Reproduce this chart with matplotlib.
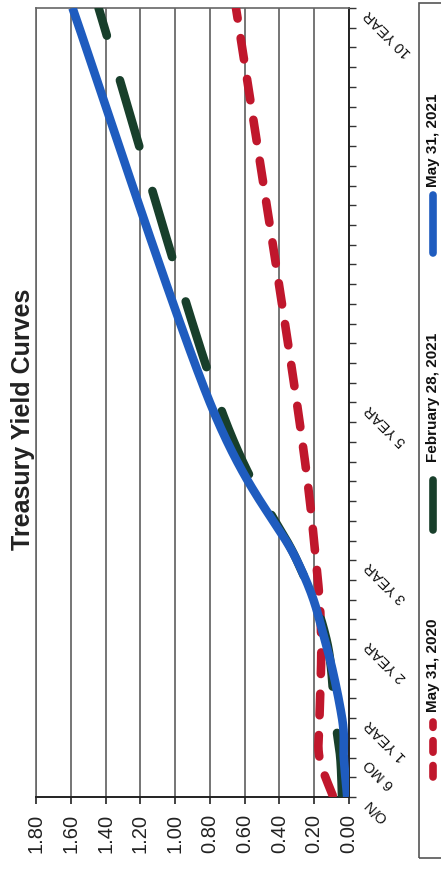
import numpy as np
import matplotlib
matplotlib.use("Agg")
import matplotlib.pyplot as plt
import matplotlib.transforms as mtransforms
from matplotlib.lines import Line2D
from matplotlib.patches import Rectangle

plt.rcParams['font.family'] = ['Liberation Sans', 'DejaVu Sans']

# maturities along the curve (years) and their labels
maturity_labels = ['O/N', '6 MO', '1 YEAR', '2 YEAR', '3 YEAR', '5 YEAR', '10 YEAR']
maturity_years = [0, 0.5, 1, 2, 3, 5, 10]

# yields in percent
may_2020 = [0.09, 0.17, 0.17, 0.16, 0.19, 0.30, 0.65]
feb_2021 = [0.04, 0.05, 0.08, 0.13, 0.30, 0.75, 1.44]
may_2021 = [0.01, 0.03, 0.04, 0.14, 0.30, 0.80, 1.59]
series_names = ['May 31, 2020', 'February 28, 2021', 'May 31, 2021']

yield_ticks = np.arange(0, 1.81, 0.2)

RED = '#c0172c'
GREEN = '#183f2b'
BLUE = '#1f5cbf'


def smooth(xs, ys, n=40):
    # Catmull-Rom style bezier through the points (spreadsheet "smoothed line")
    p = np.column_stack([xs, ys]).astype(float)
    pts = np.vstack([p[0], p, p[-1]])
    t = np.linspace(0, 1, n)[:, None]
    out = []
    for i in range(1, len(pts) - 2):
        p0, p1, p2, p3 = pts[i - 1], pts[i], pts[i + 1], pts[i + 2]
        c1 = p1 + (p2 - p0) / 6
        c2 = p2 - (p3 - p1) / 6
        seg = (1 - t) ** 3 * p1 + 3 * (1 - t) ** 2 * t * c1 + 3 * (1 - t) * t ** 2 * c2 + t ** 3 * p2
        out.append(seg if i == 1 else seg[1:])
    # run from the long end so the dash pattern starts at the top edge
    return np.vstack(out)[::-1]


fig = plt.figure(figsize=(4.41, 8.71), dpi=100)
ax = fig.add_axes([36 / 441, 74 / 871, 313 / 441, 789 / 871])

# chart is laid on its side: yield runs right-to-left, maturity bottom-to-top
ax.set_xlim(1.8, 0)
ax.set_ylim(0, 10)

ax.set_xticks(yield_ticks)
ax.set_xticklabels([f'{v:.2f}' for v in yield_ticks], rotation=90, fontsize=14.5)
ax.tick_params(axis='x', direction='out', length=5, width=1.2, pad=7, colors='#222')
ax.grid(axis='x', color='#505050', lw=1.1)

ax.yaxis.tick_right()
ax.set_yticks(np.arange(0, 10.01, 0.25))
ax.set_yticklabels([])
ax.tick_params(axis='y', direction='out', length=5, width=1.0, colors='#333')

for side in ['top', 'left']:
    ax.spines[side].set_color('#666')
    ax.spines[side].set_linewidth(1.2)
for side in ['bottom', 'right']:
    ax.spines[side].set_color('#222')
    ax.spines[side].set_linewidth(1.4)

lw = 6.2
c = smooth(maturity_years, may_2020)
ax.plot(c[:, 1], c[:, 0], color=RED, lw=lw, linestyle=(1.26, (2.5, 2.3)),
        dash_capstyle='round', zorder=3)
c = smooth(maturity_years, feb_2021)
ax.plot(c[:, 1], c[:, 0], color=GREEN, lw=lw, linestyle=(4.65, (8.0, 5.4)),
        dash_capstyle='round', zorder=4)
c = smooth(maturity_years, may_2021)
ax.plot(c[:, 1], c[:, 0], color=BLUE, lw=lw, solid_capstyle='butt', zorder=5)

# maturity labels along the right edge
trans = mtransforms.blended_transform_factory(ax.transAxes, ax.transData)
lab_trans = mtransforms.offset_copy(trans, fig=fig, x=13, y=-3, units='points')
for yr, lab in zip(maturity_years, maturity_labels):
    ax.text(1, yr, lab, transform=lab_trans, rotation=135, rotation_mode='anchor',
            ha='right', va='center', fontsize=10.5, color='#111', clip_on=False)

fig.text(23 / 441, 1 - 419 / 871, 'Treasury Yield Curves', rotation=90,
         fontsize=18, fontweight='bold', ha='center', va='center', color='#222')

# legend box on the right, entries stacked vertically
H = 871.0
fig.patches.append(Rectangle((419 / 441, (H - 858) / H), 0.2, (858 - 3) / H,
                             transform=fig.transFigure, fill=False,
                             edgecolor='#555', lw=1.2))
legend_font = ['Liberation Sans Narrow', 'Liberation Sans', 'DejaVu Sans']
lx = 432.5 / 441
entries = [
    (series_names[0], RED, (777, 722), dict(dashes=(1.5, 1.75), dash_capstyle='round'), 665),
    (series_names[1], GREEN, (530, 480), dict(solid_capstyle='round'), 397),
    (series_names[2], BLUE, (253, 195), dict(solid_capstyle='round'), 140),
]
for name, col, (y0, y1), style, ty in entries:
    fig.lines.append(Line2D([lx, lx], [(H - y0) / H, (H - y1) / H], transform=fig.transFigure,
                            color=col, lw=5.5, **style))
    fig.text(lx, (H - ty) / H, name, rotation=90, ha='center', va='center',
             fontsize=11, fontweight='bold', family=legend_font, color='#111')

fig.savefig('out.png', dpi=100, facecolor='white')
